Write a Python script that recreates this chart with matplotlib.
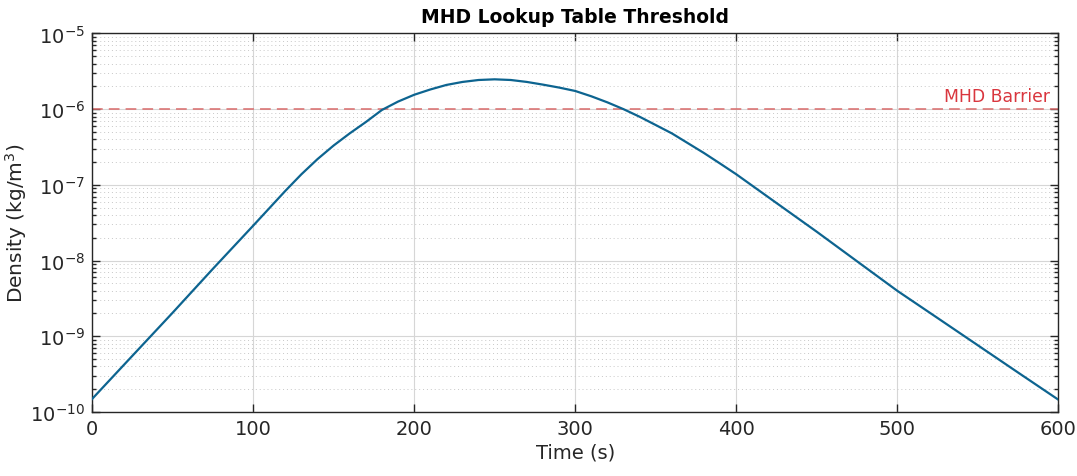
import matplotlib
matplotlib.use("Agg")
import matplotlib.pyplot as plt
from matplotlib.ticker import LogLocator, MultipleLocator, NullFormatter

# density profile sampled along the trajectory (denser around the peak)
time_s = [0, 25, 50, 75, 100, 120, 130, 140, 150, 160, 170, 180, 190, 200,
          210, 220, 230, 240, 250, 260, 270, 280, 290, 300, 310, 320, 330,
          340, 350, 360, 370, 380, 390, 400, 425, 450, 475, 500, 525, 550,
          575, 600]
density = [1.48e-10, 5.50e-10, 2.04e-9, 7.76e-9, 2.88e-8, 8.32e-8, 1.38e-7,
           2.19e-7, 3.31e-7, 4.79e-7, 6.76e-7, 9.77e-7, 1.26e-6, 1.55e-6,
           1.82e-6, 2.09e-6, 2.29e-6, 2.43e-6, 2.48e-6, 2.43e-6, 2.29e-6,
           2.11e-6, 1.93e-6, 1.74e-6, 1.48e-6, 1.23e-6, 1.00e-6, 7.94e-7,
           6.17e-7, 4.79e-7, 3.55e-7, 2.63e-7, 1.91e-7, 1.38e-7, 5.75e-8,
           2.40e-8, 9.77e-9, 3.98e-9, 1.74e-9, 7.59e-10, 3.31e-10, 1.45e-10]

barrier = 1e-6
barrier_label = "MHD Barrier"

plt.rcParams["font.family"] = ["DejaVu Sans"]

fig = plt.figure(figsize=(10.77, 4.77), dpi=100)
ax = fig.add_axes([0.0854, 0.1342, 0.8974, 0.7935])

ax.plot(time_s, density, color="#0d6490", linewidth=1.6, zorder=3)
ax.axhline(barrier, color="#d96a6a", linestyle=(0, (7, 4)), linewidth=1.1, zorder=2)
ax.text(595, barrier * 1.12, barrier_label, color="#d9363e", fontsize=12.4,
        ha="right", va="bottom")

ax.set_yscale("log")
ax.set_xlim(0, 600)
ax.set_ylim(1e-10, 1e-5)
ax.xaxis.set_major_locator(MultipleLocator(100))
ax.yaxis.set_major_locator(LogLocator(base=10, numticks=10))
ax.yaxis.set_minor_locator(LogLocator(base=10, subs=range(2, 10), numticks=20))
ax.yaxis.set_minor_formatter(NullFormatter())

ax.grid(True, which="major", color="#d6d6d6", linewidth=0.8)
ax.grid(True, which="minor", axis="y", color="#c8c8c8", linestyle=(0, (1, 3)), linewidth=0.7)
ax.set_axisbelow(True)

ax.tick_params(which="both", direction="in", top=True, right=True, colors="#262626",
               labelsize=14, width=1.0)
ax.tick_params(which="major", length=6, pad=5)
ax.tick_params(which="minor", length=3)
for side in ax.spines.values():
    side.set_color("#262626")
    side.set_linewidth(1.0)

ax.set_title("MHD Lookup Table Threshold", fontsize=13.5, fontweight="bold", pad=8)
ax.set_xlabel("Time (s)", fontsize=14, color="#262626", labelpad=3)
ax.set_ylabel("Density (kg/m$^3$)", fontsize=14.5, color="#262626", labelpad=1)

fig.savefig("out.png", dpi=100)
